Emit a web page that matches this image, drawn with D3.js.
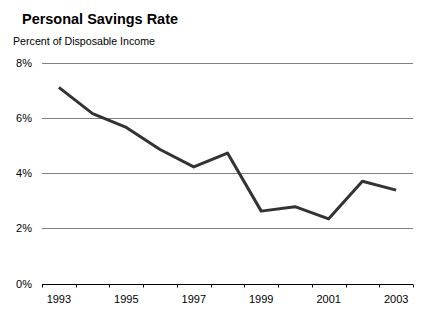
<!DOCTYPE html>
<html><head><meta charset="utf-8">
<script src="https://cdn.jsdelivr.net/npm/d3@7"></script>
<style>body{margin:0;background:#fff}svg{display:block}text{font-family:"Liberation Sans",Arial,sans-serif}</style>
</head><body>
<svg id="c" width="428" height="325"></svg>
<script>
const years = ["1993","1994","1995","1996","1997","1998","1999","2000","2001","2002","2003"];
const savingsRate = [7.1, 6.15, 5.65, 4.85, 4.22, 4.72, 2.62, 2.78, 2.34, 3.7, 3.38];
const yTicks = [0, 2, 4, 6, 8];
const xLabels = ["1993","1995","1997","1999","2001","2003"];
const title = "Personal Savings Rate";
const subtitle = "Percent of Disposable Income";

const svg = d3.select("#c");
const x = d3.scaleBand().domain(years).range([42, 413]);
const y = d3.scaleLinear().domain([0, 8]).range([283.5, 62.5]);

svg.append("text").attr("x", 22).attr("y", 24).attr("font-size", 14).attr("font-weight", "bold")
  .attr("textLength", 156).attr("lengthAdjust", "spacingAndGlyphs").text(title);
svg.append("text").attr("x", 13).attr("y", 45).attr("font-size", 11)
  .attr("textLength", 142).attr("lengthAdjust", "spacingAndGlyphs").text(subtitle);

// gridlines
svg.append("g").selectAll("line").data(yTicks.filter(d => d > 0)).join("line")
  .attr("x1", 42).attr("x2", 413)
  .attr("y1", d => Math.round(y(d)) + 0.5).attr("y2", d => Math.round(y(d)) + 0.5)
  .attr("stroke", "#808080").attr("stroke-width", 1);

// y labels
svg.append("g").selectAll("text").data(yTicks).join("text")
  .attr("x", 32).attr("y", d => y(d) + 4).attr("text-anchor", "end").attr("font-size", 11)
  .text(d => d + "%");

// x axis
const xAxis = d3.axisBottom(x).tickSize(0).tickFormat(d => xLabels.includes(d) ? d : "");
const gx = svg.append("g").attr("transform", `translate(0,${Math.round(y(0)) + 0.5})`).call(xAxis);
gx.select(".domain").remove();
gx.selectAll("text").attr("font-size", 11).attr("fill", "#000").attr("dy", null).attr("y", 18)
  .style("font-family", '"Liberation Sans",Arial,sans-serif');
gx.append("line").attr("x1", 42).attr("x2", 413).attr("stroke", "#000");
const bounds = years.map(d => x(d)).concat([x(years[years.length - 1]) + x.bandwidth()]);
gx.selectAll(".bt").data(bounds).join("line").attr("class", "bt")
  .attr("x1", d => Math.round(d) + 0.5).attr("x2", d => Math.round(d) + 0.5)
  .attr("y1", 0).attr("y2", 3).attr("stroke", "#000");

// line
const line = d3.line().x((d, i) => x(years[i]) + x.bandwidth() / 2).y(d => y(d));
svg.append("path").datum(savingsRate).attr("d", line).attr("fill", "none")
  .attr("stroke", "#333").attr("stroke-width", 3).attr("stroke-linejoin", "round");
</script>
</body></html>
